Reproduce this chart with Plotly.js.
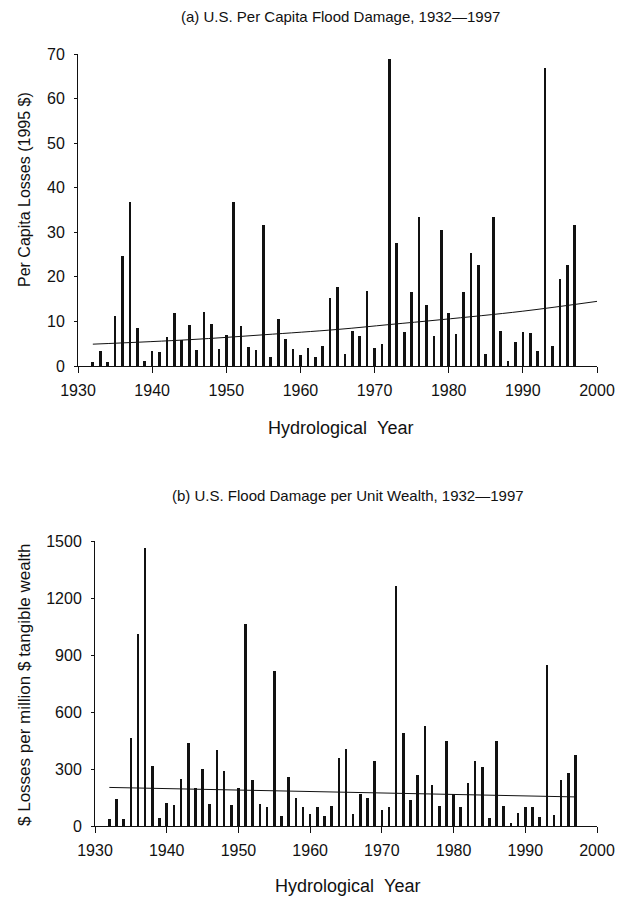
<!DOCTYPE html>
<html>
<head>
<meta charset="utf-8">
<script src="https://cdn.plot.ly/plotly-3.0.1.min.js"></script>
<style>
html,body{margin:0;padding:0;background:#fff;}
#chart{width:629px;height:898px;}
</style>
</head>
<body>
<div id="chart"></div>
<script>
const years = [1932,1933,1934,1935,1936,1937,1938,1939,1940,1941,1942,1943,1944,1945,1946,1947,1948,1949,
  1950,1951,1952,1953,1954,1955,1956,1957,1958,1959,1960,1961,1962,1963,1964,1965,1966,1967,1968,1969,
  1970,1971,1972,1973,1974,1975,1976,1977,1978,1979,1980,1981,1982,1983,1984,1985,1986,1987,1988,1989,
  1990,1991,1992,1993,1994,1995,1996,1997];

const perCapitaLoss = [0.9,3.4,0.9,11.2,24.6,36.7,8.5,1.1,3.3,3.1,6.6,12.0,5.8,9.2,3.6,12.2,9.5,3.9,
  7.0,36.7,9.0,4.2,3.6,31.6,2.0,10.5,6.1,3.9,2.5,4.0,2.0,4.4,15.3,17.7,2.7,7.9,6.8,16.8,
  4.1,4.9,68.8,27.5,7.7,16.5,33.5,13.6,6.8,30.5,11.8,7.2,16.7,25.4,22.7,2.8,33.5,7.9,1.2,5.4,
  7.7,7.5,3.4,66.9,4.6,19.6,22.7,31.7];

const perWealthLoss = [35,144,37,463,1009,1465,317,40,123,110,245,435,198,301,117,398,291,110,
  201,1064,242,114,98,815,53,258,149,98,63,98,51,107,356,403,61,170,147,342,
  84,98,1265,492,137,266,528,214,107,449,168,100,226,340,308,40,445,103,16,70,
  98,98,46,845,60,244,277,375];

const trendYearsA = [1932,1945,1955,1965,1972,1979,1990,2000];
const trendA = [4.9,5.9,7.0,8.2,9.3,10.4,12.3,14.5];
const trendYearsB = [1932,1997];
const trendB = [203,153];

const xTicks = [1930,1940,1950,1960,1970,1980,1990,2000];
const yTicksA = [0,10,20,30,40,50,60,70];
const yTicksB = [0,300,600,900,1200,1500];

const titleA = '(a) U.S. Per Capita Flood Damage, 1932\u20141997';
const titleB = '(b) U.S. Flood Damage per Unit Wealth, 1932\u20141997';
const yTitleA = 'Per Capita Losses (1995 $)';
const yTitleB = '$ Losses per million $ tangible wealth';
const xTitle = 'Hydrological\u00a0\u00a0Year';

const W = 629, H = 898;
const px = v => v / W;
const py = v => 1 - v / H;
const FONT = 'Liberation Sans, Arial, sans-serif';
const INK = '#111';

const traces = [
  {type:'bar', x:years, y:perCapitaLoss, xaxis:'x', yaxis:'y', width:0.36,
   marker:{color:INK, line:{width:0}}, hoverinfo:'x+y'},
  {type:'scatter', mode:'lines', x:trendYearsA, y:trendA, xaxis:'x', yaxis:'y',
   line:{color:INK, width:1, shape:'spline'}},
  {type:'bar', x:years, y:perWealthLoss, xaxis:'x2', yaxis:'y2', width:0.36,
   marker:{color:INK, line:{width:0}}, hoverinfo:'x+y'},
  {type:'scatter', mode:'lines', x:trendYearsB, y:trendB, xaxis:'x2', yaxis:'y2',
   line:{color:INK, width:1}}
];

const axisCommon = {
  showgrid:false, zeroline:false, showline:true, linecolor:INK, linewidth:1,
  ticks:'outside', tickcolor:INK, tickwidth:1,
  tickfont:{family:FONT, size:16, color:INK}, fixedrange:true
};

const layout = {
  width:W, height:H, margin:{l:0,r:0,t:0,b:0},
  paper_bgcolor:'#fff', plot_bgcolor:'#fff', showlegend:false, bargap:0,
  font:{family:FONT, size:16, color:INK},
  xaxis:Object.assign({}, axisCommon, {domain:[px(78), px(597)], range:[1930,2000],
    tickvals:xTicks, ticklen:6, anchor:'y', ticklabelstandoff:4}),
  yaxis:Object.assign({}, axisCommon, {domain:[py(366), py(54)], range:[0,70],
    tickvals:yTicksA, ticklen:3, anchor:'x', ticklabelstandoff:6}),
  xaxis2:Object.assign({}, axisCommon, {domain:[px(95), px(597)], range:[1930,2000],
    tickvals:xTicks, ticklen:6, anchor:'y2', ticklabelstandoff:4}),
  yaxis2:Object.assign({}, axisCommon, {domain:[py(826), py(541)], range:[0,1500],
    tickvals:yTicksB, ticklen:3, anchor:'x2', ticklabelstandoff:6}),
  annotations:[
    {text:titleA, xref:'paper', yref:'paper', x:px(340), y:py(17), showarrow:false,
     xanchor:'center', yanchor:'middle', font:{family:FONT, size:15, color:INK}},
    {text:titleB, xref:'paper', yref:'paper', x:px(348), y:py(496), showarrow:false,
     xanchor:'center', yanchor:'middle', font:{family:FONT, size:15, color:INK}},
    {text:xTitle, xref:'paper', yref:'paper', x:px(340), y:py(428), showarrow:false,
     xanchor:'center', yanchor:'middle', font:{family:FONT, size:18, color:INK}},
    {text:xTitle, xref:'paper', yref:'paper', x:px(348), y:py(886), showarrow:false,
     xanchor:'center', yanchor:'middle', font:{family:FONT, size:18, color:INK}},
    {text:yTitleA, xref:'paper', yref:'paper', x:px(24), y:py(190), showarrow:false,
     textangle:-90, xanchor:'center', yanchor:'middle', font:{family:FONT, size:16, color:INK}},
    {text:yTitleB, xref:'paper', yref:'paper', x:px(24), y:py(685), showarrow:false,
     textangle:-90, xanchor:'center', yanchor:'middle', font:{family:FONT, size:17, color:INK}}
  ]
};

Plotly.newPlot('chart', traces, layout, {staticPlot:true, displayModeBar:false});
</script>
</body>
</html>
